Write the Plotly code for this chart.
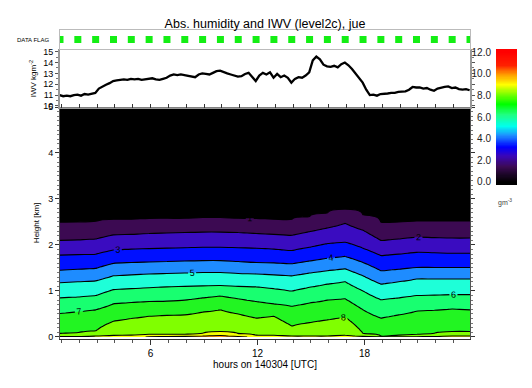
import numpy as np
import plotly.graph_objects as go

# ---------------- data ----------------
grid_hours = [0.92, 1.92, 2.92, 3.92, 4.92, 5.92, 6.92, 7.92, 8.92, 9.92, 10.92, 11.92,
              12.92, 13.92, 14.92, 15.92, 16.92, 17.92, 18.92, 19.92, 20.92, 21.92, 22.92, 23.92]

# height [km] of each absolute-humidity contour level at each grid hour
h_level1 = [2.49, 2.50, 2.51, 2.55, 2.56, 2.57, 2.58, 2.58, 2.59, 2.59, 2.58, 2.57,
            2.56, 2.55, 2.62, 2.69, 2.78, 2.65, 2.49, 2.50, 2.52, 2.52, 2.52, 2.52]
h_level2 = [2.10, 2.11, 2.13, 2.22, 2.23, 2.25, 2.26, 2.27, 2.28, 2.28, 2.27, 2.25,
            2.23, 2.21, 2.29, 2.37, 2.47, 2.32, 2.10, 2.13, 2.17, 2.16, 2.15, 2.15]
h_level3 = [1.78, 1.79, 1.80, 1.89, 1.91, 1.92, 1.93, 1.94, 1.95, 1.95, 1.94, 1.93,
            1.91, 1.88, 1.95, 2.03, 2.06, 1.93, 1.77, 1.80, 1.84, 1.83, 1.82, 1.82]
h_level4 = [1.45, 1.47, 1.49, 1.60, 1.62, 1.63, 1.64, 1.65, 1.66, 1.66, 1.64, 1.62,
            1.61, 1.59, 1.65, 1.71, 1.75, 1.62, 1.44, 1.47, 1.51, 1.51, 1.51, 1.51]
h_level5 = [1.18, 1.20, 1.22, 1.33, 1.35, 1.37, 1.38, 1.39, 1.40, 1.40, 1.38, 1.37,
            1.35, 1.33, 1.39, 1.44, 1.48, 1.33, 1.15, 1.20, 1.26, 1.26, 1.26, 1.26]
h_level6 = [0.85, 0.87, 0.90, 1.03, 1.05, 1.07, 1.09, 1.10, 1.11, 1.12, 1.10, 1.09,
            1.05, 1.00, 1.08, 1.15, 1.20, 1.00, 0.81, 0.85, 0.90, 0.91, 0.92, 0.92]
h_level7 = [0.51, 0.55, 0.59, 0.72, 0.75, 0.77, 0.78, 0.80, 0.85, 0.89, 0.83, 0.77,
            0.72, 0.67, 0.74, 0.80, 0.83, 0.59, 0.41, 0.48, 0.56, 0.58, 0.61, 0.59]
h_level8 = [0.07, 0.09, 0.13, 0.34, 0.40, 0.45, 0.47, 0.48, 0.54, 0.59, 0.50, 0.41,
            0.45, 0.24, 0.31, 0.37, 0.43, 0.08, 0.02, 0.04, 0.05, 0.08, 0.12, 0.12]
h_level9 = [0.01, 0.01, 0.02, 0.03, 0.04, 0.05, 0.05, 0.06, 0.08, 0.12, 0.07, 0.04,
            0.03, 0.02, 0.02, 0.02, 0.03, 0.01, 0.005, 0.005, 0.01, 0.01, 0.02, 0.02]
h_level10 = [None, None, None, None, None, 0.005, 0.01, 0.015, 0.02, 0.03, 0.01, None,
             None, None, None, None, None, None, None, None, None, None, None, None]
surface_value = [9.1, 9.1, 9.15, 9.3, 9.6, 10.1, 10.15, 10.2, 10.3, 10.4, 10.2, 9.8,
                 9.5, 9.4, 9.4, 9.5, 9.5, 9.2, 9.05, 9.05, 9.1, 9.1, 9.2, 9.2]
top_value = 0.1

# IWV time series [kg m-2]
iwv_hours = [0.9, 1.1, 1.3, 1.5, 1.7, 1.9, 2.1, 2.3, 2.5, 2.7, 2.9, 3.1, 3.3, 3.5, 3.7, 3.9,
             4.1, 4.3, 4.5, 4.7, 4.9, 5.1, 5.3, 5.5, 5.7, 5.9, 6.1, 6.3, 6.5, 6.7, 6.9, 7.1,
             7.3, 7.5, 7.7, 7.9, 8.1, 8.3, 8.5, 8.7, 8.9, 9.1, 9.3, 9.5, 9.7, 9.9, 10.1, 10.3,
             10.5, 10.7, 10.9, 11.1, 11.3, 11.5, 11.7, 11.9, 12.1, 12.3, 12.5, 12.7, 12.9, 13.1,
             13.3, 13.5, 13.7, 13.9, 14.1, 14.3, 14.5, 14.7, 14.9, 15.1, 15.3, 15.5, 15.7, 15.9,
             16.1, 16.3, 16.5, 16.7, 16.9, 17.1, 17.3, 17.5, 17.7, 17.9, 18.1, 18.3, 18.5, 18.7,
             18.9, 19.1, 19.3, 19.5, 19.7, 19.9, 20.1, 20.3, 20.5, 20.7, 20.9, 21.1, 21.3, 21.5,
             21.7, 21.9, 22.1, 22.3, 22.5, 22.7, 22.9, 23.1, 23.3, 23.5, 23.7, 23.9]
iwv_values = [11.0, 10.9, 10.95, 10.9, 11.0, 11.05, 10.95, 11.1, 11.05, 11.15, 11.2, 11.6,
              11.8, 11.95, 12.1, 12.3, 12.35, 12.4, 12.45, 12.4, 12.5, 12.45, 12.5, 12.4,
              12.45, 12.5, 12.55, 12.45, 12.4, 12.5, 12.6, 12.8, 12.9, 12.85, 12.9, 12.85,
              12.8, 12.75, 12.65, 12.9, 13.0, 12.95, 12.9, 13.05, 13.2, 13.25, 13.1, 13.0,
              12.9, 12.8, 12.7, 12.75, 12.95, 13.05, 12.7, 12.3, 12.8, 13.05, 12.9, 13.1,
              12.6, 12.95, 12.65, 12.8, 12.6, 12.15, 12.5, 12.65, 12.6, 12.8, 13.1, 14.2,
              14.55, 14.3, 13.8, 13.65, 13.6, 13.7, 13.55, 13.85, 14.0, 13.75, 13.4, 13.0,
              12.6, 12.15, 11.5, 11.0, 11.05, 10.95, 11.1, 11.1, 11.15, 11.2, 11.2, 11.3,
              11.3, 11.35, 11.5, 11.75, 11.7, 11.7, 11.6, 11.65, 11.5, 11.4, 11.6, 11.7,
              11.75, 11.8, 11.65, 11.7, 11.55, 11.5, 11.55, 11.45]

flag_hours = [0.92, 1.92, 2.92, 3.92, 4.92, 5.92, 6.92, 7.92, 8.92, 9.92, 10.92, 11.92,
              12.92, 13.92, 14.92, 15.92, 16.92, 17.92, 18.92, 19.92, 20.92, 21.92, 22.92, 23.92]
flag_values = [0.5] * 24

colorbar_ticks = [0, 2, 4, 6, 8, 10, 12]
x_ticks = [6, 12, 18]

# colours of the filled bands 0-1, 1-2, ..., 11-12, >12
band_colors = ['#000000', '#3c0a52', '#3a0cc0', '#0010ff', '#1e8cff', '#1effd8',
               '#18ff70', '#22f522', '#80ff00', '#f5ff00', '#ff9a00', '#ff1a00', '#ff0000']

# continuous colour table for the colour bar
cbar_scale = [[0.0, '#000000'], [0.06, '#1c0628'], [0.12, '#3c0a55'], [0.2, '#3a06b8'],
              [0.27, '#0000ff'], [0.36, '#1e90ff'], [0.43, '#00ffee'], [0.52, '#20ff80'],
              [0.6, '#00ff00'], [0.68, '#80ff00'], [0.75, '#ffff00'], [0.83, '#ff9900'],
              [0.9, '#ff2000'], [1.0, '#ff0000']]

# ---------------- build field ----------------
heights = np.round(np.arange(0, 5.0001, 0.02), 3)
lv_arrays = [(9, h_level9), (8, h_level8), (7, h_level7), (6, h_level6), (5, h_level5),
             (4, h_level4), (3, h_level3), (2, h_level2), (1, h_level1)]
Z = np.zeros((len(heights), len(grid_hours)))
for i in range(len(grid_hours)):
    xp = [0.0]
    fp = [surface_value[i]]
    if h_level10[i] is not None:
        xp.append(h_level10[i]); fp.append(10)
    for lv, arr in lv_arrays:
        xp.append(arr[i]); fp.append(lv)
    xp.append(5.0); fp.append(top_value)
    Z[:, i] = np.interp(heights, xp, fp)

# stepped colour scale for contour fills (bg + 13 bands -> 14 slots)
nslot = len(band_colors) + 1
slot_colors = ['#000000'] + band_colors
step_scale = []
for j, c in enumerate(slot_colors):
    lo = max(0.0, (j - 0.5) / (nslot - 1))
    hi = min(1.0, (j + 0.5) / (nslot - 1))
    step_scale.append([lo, c])
    step_scale.append([hi, c])

FONT = 'Liberation Sans, Arial, Helvetica, sans-serif'
W, H = 532, 388
OX, OY = 8, 8  # page offset of the figure inside the browser window


def px(v):
    return (v - OX) / W


def py(v):
    return 1 - (v - OY) / H


XD = [px(60), px(470)]

fig = go.Figure()

fig.add_trace(go.Contour(
    x=grid_hours, y=heights, z=Z,
    colorscale=step_scale, showscale=False,
    contours=dict(start=0, end=12, size=1, coloring='fill', showlabels=True,
                  labelfont=dict(size=9, color='black', family=FONT)),
    line=dict(color='black', width=1.1),
    hoverinfo='skip', xaxis='x', yaxis='y'))

fig.add_trace(go.Scatter(
    x=iwv_hours, y=iwv_values, mode='lines',
    line=dict(color='black', width=2.3),
    hoverinfo='skip', xaxis='x2', yaxis='y2', showlegend=False))

fig.add_trace(go.Scatter(
    x=flag_hours, y=flag_values, mode='markers',
    marker=dict(symbol='square', size=7, color='#14ee14'),
    hoverinfo='skip', xaxis='x3', yaxis='y3', showlegend=False, cliponaxis=True))

cb_y = np.round(np.arange(-0.3, 12.31, 0.05), 3)
fig.add_trace(go.Heatmap(
    x=[0, 1], y=cb_y, z=[[v, v] for v in cb_y],
    colorscale=cbar_scale, zmin=0, zmax=12, showscale=False,
    hoverinfo='skip', xaxis='x4', yaxis='y4'))

grey = '#999999'
common = dict(automargin=False, showgrid=False, zeroline=False)

fig.update_layout(
    width=W, height=H, template='none',
    margin=dict(l=0, r=0, t=0, b=0),
    paper_bgcolor='white', plot_bgcolor='white',
    font=dict(family=FONT, size=9, color='black'),
    showlegend=False,
    title=dict(text='Abs. humidity and IWV (level2c), jue', x=px(265), y=py(24),
               xref='paper', yref='paper',
               xanchor='center', yanchor='middle', font=dict(size=12.5, family=FONT)),
    xaxis=dict(domain=XD, range=[0.92, 23.92], anchor='y', tickvals=x_ticks,
               ticks='outside', ticklen=5, tickcolor='#333',
               minor=dict(dtick=1, tick0=0, ticks='outside', ticklen=3, tickcolor='#555'),
               showline=True, linecolor='#333', linewidth=1,
               tickfont=dict(size=10),
               title=dict(text='hours on 140304 [UTC]', font=dict(size=10), standoff=3),
               **common),
    yaxis=dict(domain=[py(338.8), py(107)], range=[-0.04, 5.0], anchor='x',
               dtick=1, ticks='outside', ticklen=4, tickcolor='#333',
               minor=dict(dtick=0.1, ticks='outside', ticklen=2, tickcolor='#777'),
               showline=True, linecolor='#555', mirror='ticks',
               tickfont=dict(size=9),
               title=dict(text='Height [km]', font=dict(size=8), standoff=7),
               **common),
    xaxis2=dict(domain=XD, range=[0.92, 23.92], anchor='y2', showticklabels=False,
                dtick=1, tick0=0, ticks='inside', ticklen=4, tickcolor='#333',
                showline=True, linecolor=grey, mirror=True, **common),
    yaxis2=dict(domain=[py(107.5), py(49.5)], range=[9.86, 15.2], anchor='x2',
                dtick=1, ticks='outside', ticklen=3, tickcolor='#555',
                minor=dict(dtick=0.5, ticks='outside', ticklen=2, tickcolor='#777'),
                showline=True, linecolor=grey, linewidth=2, mirror='ticks',
                tickfont=dict(size=9),
                title=dict(text='IWV kgm<sup>-2</sup>', font=dict(size=8), standoff=5),
                **common),
    xaxis3=dict(domain=XD, range=[0.92, 23.92], anchor='y3', showticklabels=False,
                ticks='', showline=True, linecolor='#bbbbbb', mirror=True, **common),
    yaxis3=dict(domain=[py(49), py(30)], range=[0, 1], anchor='x3',
                showticklabels=False, ticks='', showline=True, linecolor='#bbbbbb',
                mirror=True, **common),
    xaxis4=dict(domain=[px(496), px(517)], range=[0, 1], anchor='y4',
                showticklabels=False, ticks='', showline=False, **common),
    yaxis4=dict(domain=[py(185), py(49)], range=[-0.3, 12.3], anchor='x4',
                side='left', tickvals=colorbar_ticks, tickformat='.1f', ticks='',
                ticklabelstandoff=4,
                tickfont=dict(size=10, color='#222'), showline=False, **common),
    annotations=[
        dict(text='DATA FLAG', x=px(33), y=py(40), xref='paper', yref='paper',
             showarrow=False, font=dict(size=6, family=FONT), xanchor='center',
             yanchor='middle'),
        dict(text='gm<sup>-3</sup>', x=px(505), y=py(202), xref='paper', yref='paper',
             showarrow=False, font=dict(size=7, family=FONT, color='#444'),
             xanchor='center', yanchor='middle'),
    ],
)

fig.write_html('out.html')
